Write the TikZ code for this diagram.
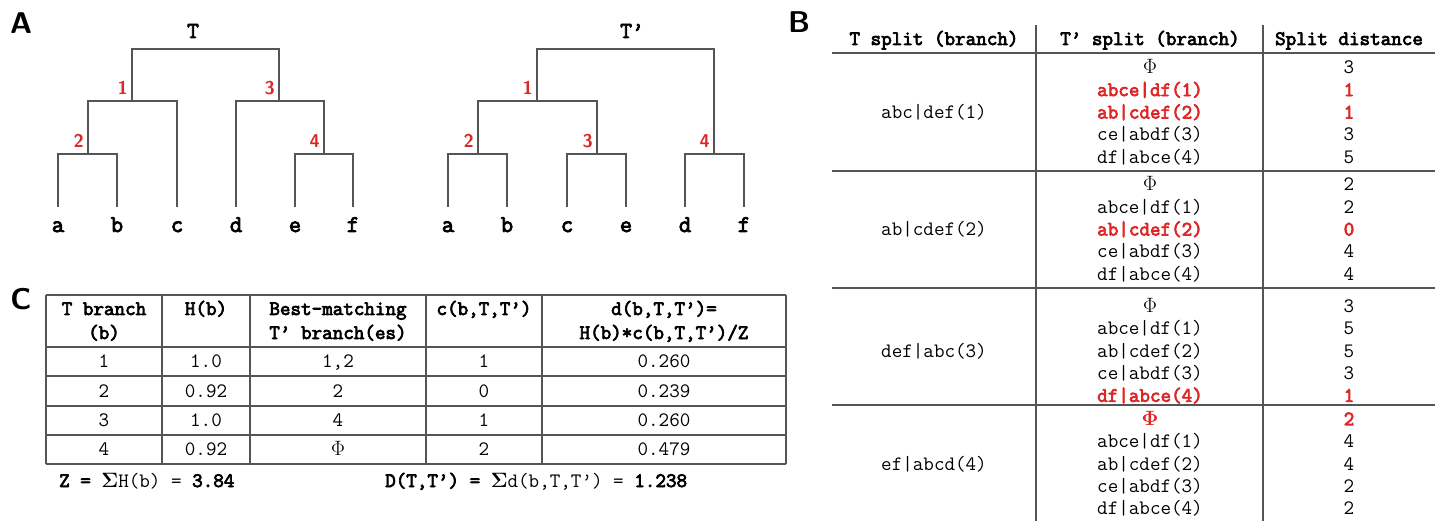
\documentclass[tikz,border=0pt]{standalone}
\usepackage{fontspec}
\setmonofont{Latin Modern Mono}[BoldFont={Latin Modern Mono}, BoldFeatures={FakeBold=3.5}]
\usepackage{xcolor}
\usepackage{tikz}
\usetikzlibrary{positioning}

\definecolor{hired}{RGB}{222,38,38}
\definecolor{rulegray}{RGB}{85,85,85}

\newcommand\tpr{\textquoteright}
\newcommand\tpsplit[1]{\ifcase#1 $\Phi$\or abce|df(1)\or ab|cdef(2)\or ce|abdf(3)\or df|abce(4)\fi}

\begin{document}
\begin{tikzpicture}[x=1pt, y=-1pt]

% Styles
\tikzset{
  panel/.style={font=\fontsize{30}{32}\selectfont\sffamily\bfseries, inner sep=0pt},
  branch/.style={draw=rulegray, line width=1.4pt},
  leaf/.style={font=\fontsize{24}{26}\selectfont\ttfamily\bfseries, inner sep=0pt, anchor=base},
  title/.style={leaf, font=\fontsize{23}{25}\selectfont\ttfamily\bfseries},
  brnum/.style={font=\fontsize{18.5}{20}\selectfont\sffamily\bfseries, text=hired, inner sep=0pt},
  rule/.style={draw=rulegray, line width=1.4pt},
  hd/.style={font=\fontsize{20.5}{22}\selectfont\ttfamily\bfseries, inner sep=0pt, text height=12pt, text depth=0pt},
  bn/.style={font=\fontsize{20.5}{22}\selectfont\ttfamily, inner sep=0pt, text height=12pt, text depth=0pt},
  br/.style={bn, font=\fontsize{20.5}{22}\selectfont\ttfamily\bfseries\boldmath, text=hired}
}

\useasboundingbox (0,0) rectangle (1440,521);

% Panel letters
\node[panel] (pA) at (21,23) {A};
\node[panel] (pB) at (799,22) {B};
\node[panel] (pC) at (21,299) {C};

% Tree T
\foreach \l/\x in {a/58,b/117,c/177,d/236,e/295,f/353} {
  \coordinate (T\l) at (\x,207);
  \node[leaf] (Tl\l) at (\x,232) {\l};
}
\coordinate (T0) at (205.5,49);
\coordinate (T1) at (132,101);
\coordinate (T2) at (88,154);
\coordinate (T3) at (279,101);
\coordinate (T4) at (324,154);
\draw[branch] (Ta) |- (T2) -| (Tb);
\draw[branch] (T2) |- (T1) -| (Tc);
\draw[branch] (Te) |- (T4) -| (Tf);
\draw[branch] (Td) |- (T3) -| (T4);
\draw[branch] (T1) |- (T0) -| (T3);
\node[title] (Ttitle) at (193,38) {T};
\foreach \n in {1,2,3,4}
  \node[brnum, above left=6pt and 4pt of T\n] (Tn\n) {\n};

% Tree T'
\foreach \l/\x in {a/448,b/507,c/567,e/626,d/685,f/744} {
  \coordinate (P\l) at (\x,207);
  \node[leaf] (Pl\l) at (\x,232) {\l};
}
\coordinate (P0) at (625.5,49);
\coordinate (P1) at (537,101);
\coordinate (P2) at (478,154);
\coordinate (P3) at (597,154);
\coordinate (P4) at (714,154);
\draw[branch] (Pa) |- (P2) -| (Pb);
\draw[branch] (Pc) |- (P3) -| (Pe);
\draw[branch] (Pd) |- (P4) -| (Pf);
\draw[branch] (P2) |- (P1) -| (P3);
\draw[branch] (P1) |- (P0) -| (P4);
\node[title] (Ptitle) at (632,38) {T\tpr};
\foreach \n in {1,2,3,4}
  \node[brnum, above left=6pt and 4pt of P\n] (Pn\n) {\n};

% Table B
\foreach \y in {53,171,288,405}
  \draw[rule] (832,\y) -- (1435,\y);
\foreach \x in {1036,1263}
  \draw[rule] (\x,25) -- (\x,521);
\node[hd] (bh1) at (934,39) {T split (branch)};
\node[hd] (bh2) at (1150,39) {T\tpr{} split (branch)};
\node[hd] (bh3) at (1349,39) {Split distance};
\foreach \g/\yc/\lab/\dl in {
    1/112.5/abc|def(1)/{0/3/bn,1/1/br,2/1/br,3/3/bn,4/5/bn},
    2/229.5/ab|cdef(2)/{0/2/bn,1/2/bn,2/0/br,3/4/bn,4/4/bn},
    3/351/def|abc(3)/{0/3/bn,1/5/bn,2/5/bn,3/3/bn,4/1/br},
    4/464/ef|abcd(4)/{0/2/br,1/4/bn,2/4/bn,3/2/bn,4/2/bn}} {
  \node[bn] (bs\g) at (934,\yc) {\lab};
  \foreach \i/\dv/\s in \dl {
    \node[\s] (bp\g\i) at (1150,{\yc+(\i-2)*22.4}) {\tpsplit{\i}};
    \node[\s] (bd\g\i) at (1349,{\yc+(\i-2)*22.4}) {\dv};
  }
}

% Table C
\foreach \y in {295,347,376,406,435,464}
  \draw[rule] (46,\y) -- (786,\y);
\foreach \x in {46,162,250,426,542,786}
  \draw[rule] (\x,295) -- (\x,464);
\node[hd] (ch1a) at (104,309) {T branch};
\node[hd] (ch1b) at (104,333) {(b)};
\node[hd] (ch2) at (206,309) {H(b)};
\node[hd] (ch3a) at (338,309) {Best-matching};
\node[hd] (ch3b) at (338,333) {T\tpr{} branch(es)};
\node[hd] (ch4) at (484,309) {c(b,T,T\tpr)};
\node[hd] (ch5a) at (664,309) {d(b,T,T\tpr)=};
\node[hd] (ch5b) at (664,333) {H(b)*c(b,T,T\tpr)/Z};
\foreach \rw/\yy/\hb/\bm/\cv/\dv in {
    1/361.5/1.0/{1,2}/1/0.260,
    2/391/0.92/2/0/0.239,
    3/420.5/1.0/4/1/0.260,
    4/449.5/0.92/{$\Phi$}/2/0.479} {
  \node[bn] (cb\rw) at (104,\yy) {\rw};
  \node[bn] (cH\rw) at (206,\yy) {\hb};
  \node[bn] (cm\rw) at (338,\yy) {\bm};
  \node[bn] (cc\rw) at (484,\yy) {\cv};
  \node[bn] (cd\rw) at (664,\yy) {\dv};
}
\node[bn, anchor=west] (cZ) at (59,481) {\textbf{Z = }{\boldmath$\Sigma$}H(b) = \textbf{3.84}};
\node[bn, anchor=west] (cD) at (385,481) {\textbf{D(T,T\tpr) = }{\boldmath$\Sigma$}d(b,T,T\tpr) = \textbf{1.238}};

\end{tikzpicture}
\end{document}
